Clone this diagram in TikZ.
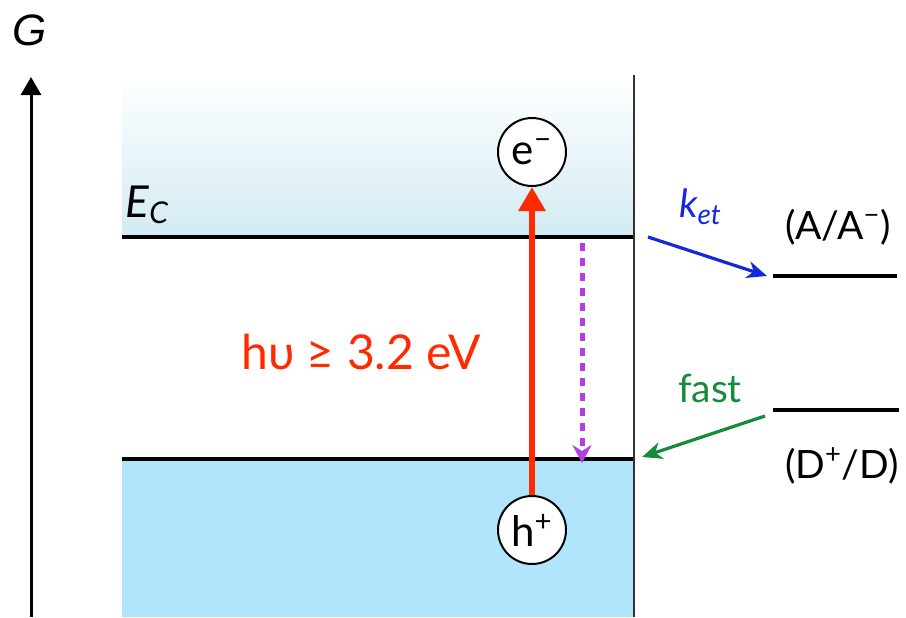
\documentclass[tikz,border=0pt]{standalone}
\usepackage{fontspec}
\setmainfont{Lato}
\newfontfamily\axisfont{Liberation Sans}
\usetikzlibrary{arrows.meta, positioning}
\usepackage{xcolor}
\definecolor{Photon}{HTML}{FF2A00}
\definecolor{Relax}{HTML}{B43CE6}
\definecolor{Transfer}{HTML}{1428DC}
\definecolor{Fast}{HTML}{148C3C}
\definecolor{BandTop}{HTML}{D3EBF3}
\definecolor{BandLow}{HTML}{B0E5FB}

\begin{document}
\begin{tikzpicture}[
            x=0.5pt, y=-0.5pt,
            level/.style={line width=2pt, black},
            carrier/.style={
                circle,
                draw,
                line width=1pt,
                fill=white,
                minimum size=34pt,
                inner sep=0pt,
                font=\fontsize{21}{24}\selectfont
            },
            couple/.style={font=\fontsize{19.5}{22}\selectfont},
            photon/.style={-{Triangle[width=13pt, length=12pt]}, line width=3pt, color=Photon},
            relax/.style={-{Stealth[width=9.5pt, length=9pt, inset=3pt]}, line width=2.5pt, color=Relax, dash pattern=on 4pt off 3.5pt},
            transfer/.style={-{Stealth[width=8.5pt, length=10pt, inset=3pt]}, line width=1.6pt},
            note/.style={font=\fontsize{19.5}{22}\selectfont}
        ]
            \useasboundingbox (0,0) rectangle (906,617);

            % Bands
            \shade[top color=white, bottom color=BandTop] (122,75) rectangle (634,237);
            \fill[BandLow] (122,459) rectangle (634,617);
            \coordinate (cbL) at (122,237);
            \coordinate (cbR) at (634,237);
            \coordinate (vbL) at (122,459);
            \coordinate (vbR) at (634,459);
            \draw[level] (cbL) -- (cbR);
            \draw[level] (vbL) -- (vbR);
            \coordinate (surfTop) at (634,75);
            \coordinate (surfBot) at (634,617);
            \draw[line width=0.8pt, black!80] (surfTop) -- (surfBot);

            % Energy axis
            \coordinate (axisBot) at (31,617);
            \coordinate (axisTop) at (31,77);
            \draw[line width=1.5pt, -{Triangle[width=10pt, length=9pt]}] (axisBot) -- (axisTop);
            \node[font=\axisfont\itshape\fontsize{22}{24}\selectfont] (gibbs) at (30,30) {G};
            \node[font=\itshape\fontsize{22}{24}\selectfont] (ecLabel) at (147,205) {E\raisebox{-0.3ex}{\fontsize{15}{15}\selectfont C}};

            % Excitation
            \node[carrier] (elec) at (532,152) {e\textsuperscript{−}};
            \node[carrier] (hole) at (532,530) {h\textsuperscript{+}};
            \draw[photon] (hole) -- (elec);
            \node[font=\fontsize{24}{28}\selectfont, text=Photon] (gap) at (361,352) {hυ ≥ 3.2 eV};
            \coordinate (relaxS) at (582,243);
            \coordinate (relaxE) at (582,463);
            \draw[relax] (relaxS) -- (relaxE);

            % Redox couples
            \coordinate (accL) at (773,276);
            \coordinate (accR) at (897,276);
            \coordinate (donL) at (773,410);
            \coordinate (donR) at (899,410);
            \draw[level] (accL) -- (accR);
            \draw[level] (donL) -- (donR);
            \node[couple] (accLabel) at (838,227) {(A/A\textsuperscript{−})};
            \node[couple] (donLabel) at (842,466) {(D\textsuperscript{+}/D)};

            % Interfacial transfer
            \coordinate (ketS) at (648,237);
            \coordinate (fastE) at (642,457);
            \draw[transfer, Transfer] (ketS) -- ([xshift=-3pt]accL);
            \draw[transfer, Fast] ([xshift=-4pt, yshift=-3pt]donL) -- (fastE);
            \node[note, text=Transfer, font=\itshape\fontsize{19.5}{22}\selectfont] (ket) at (700,207) {k\raisebox{-0.35ex}{\fontsize{14}{14}\selectfont et}};
            \node[note, text=Fast] (fast) at (710,388) {fast};
        \end{tikzpicture}
\end{document}
